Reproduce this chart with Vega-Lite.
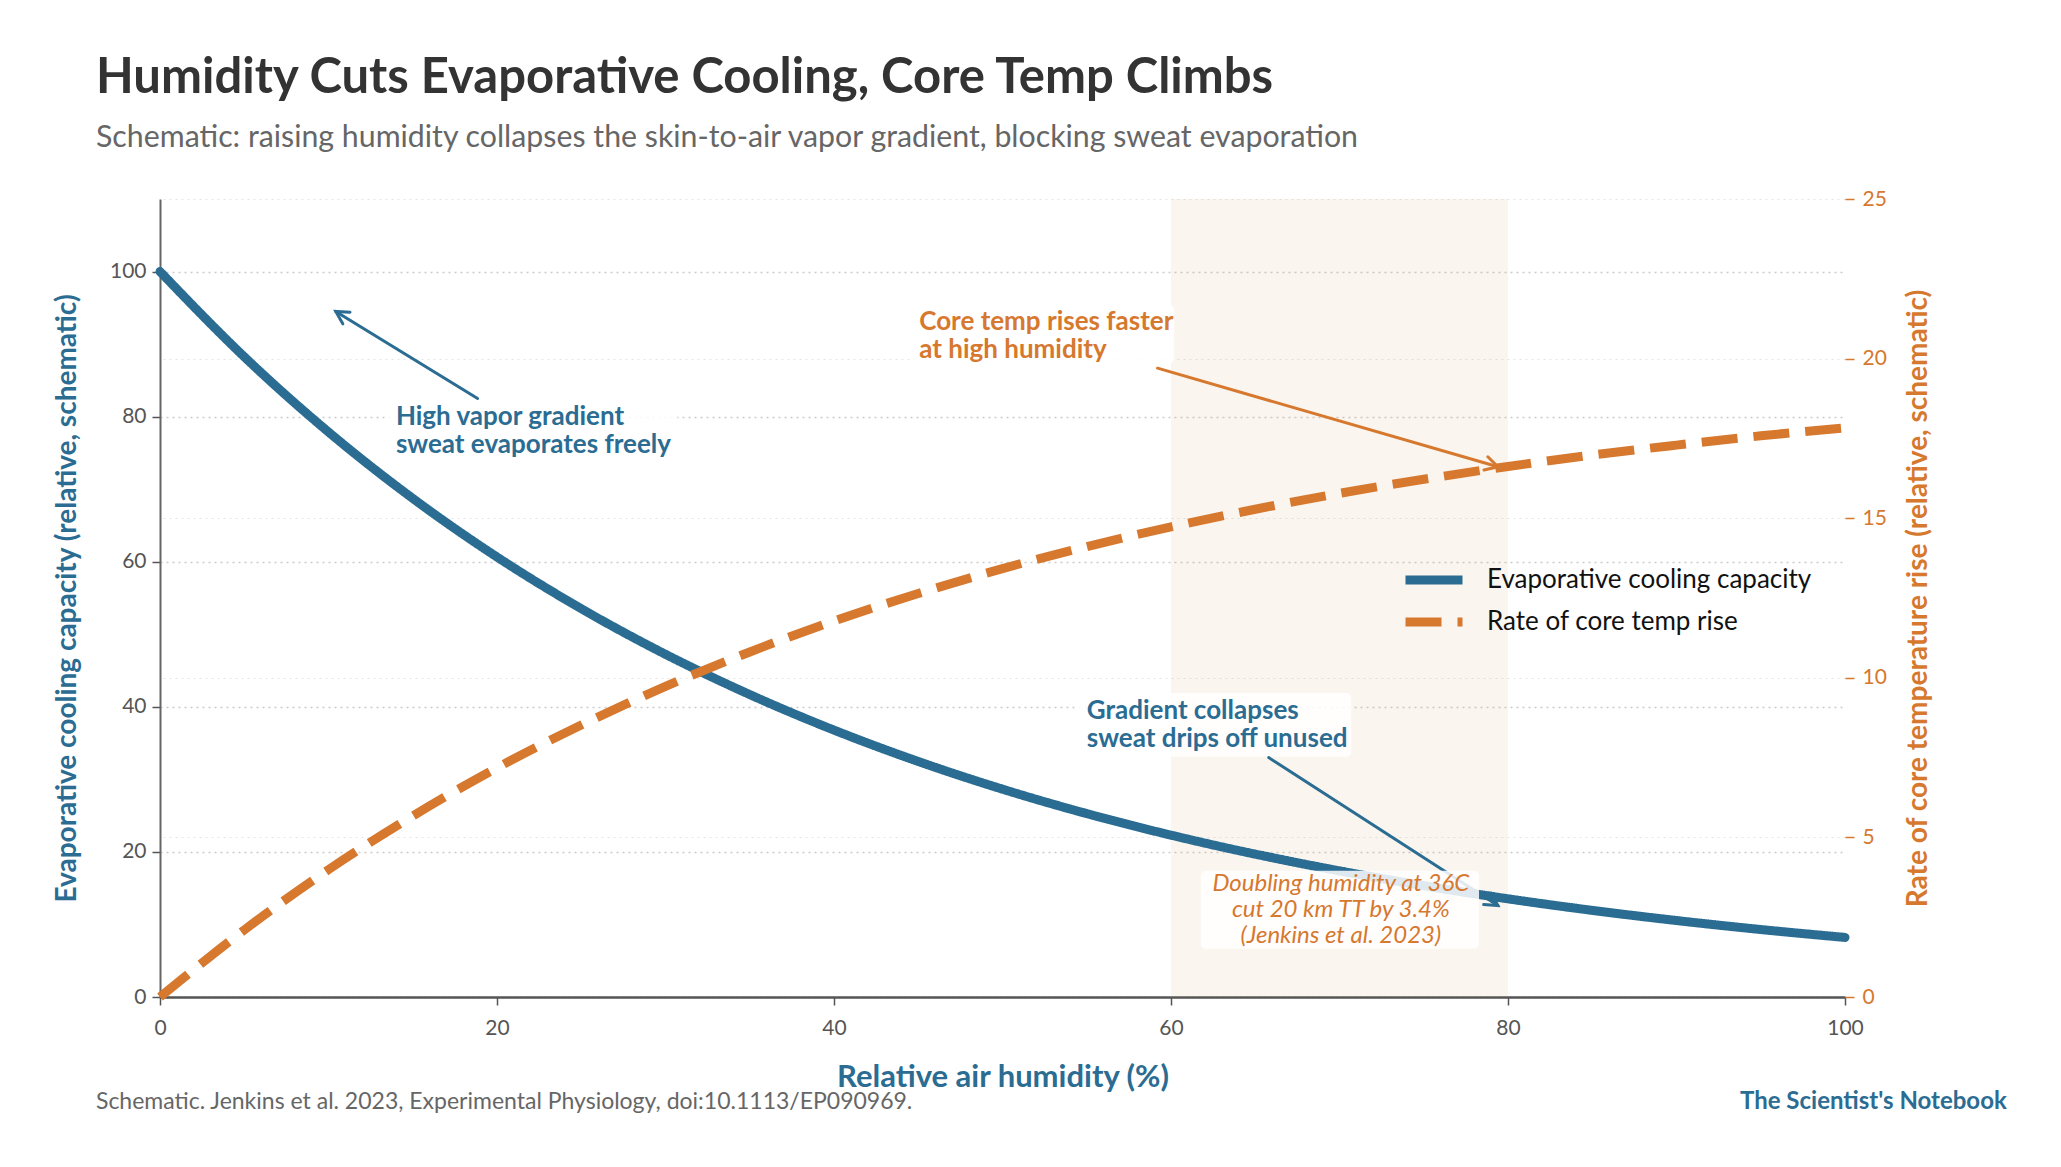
{
  "$schema": "https://vega.github.io/schema/vega-lite/v6.json",
  "width": 1685,
  "height": 798,
  "autosize": {"type": "none"},
  "padding": {"left": 160, "top": 199, "right": 216, "bottom": 170},
  "background": "#ffffff",
  "config": {
    "view": {"stroke": null},
    "font": "Lato",
    "axis": {"labelFont": "Lato", "titleFont": "Lato"},
    "legend": {"labelFont": "Lato"},
    "text": {"font": "Lato"}
  },
  "title": {
    "text": "Humidity Cuts Evaporative Cooling, Core Temp Climbs",
    "subtitle": "Schematic: raising humidity collapses the skin-to-air vapor gradient, blocking sweat evaporation",
    "anchor": "start",
    "frame": "group",
    "dx": -64,
    "offset": 35,
    "font": "Lato",
    "fontSize": 49,
    "fontWeight": "bold",
    "color": "#333333",
    "subtitleFont": "Lato",
    "subtitleFontSize": 30.3,
    "subtitleColor": "#666666",
    "subtitlePadding": 20
  },
  "datasets": {
    "curves": [
      {"x": 0, "value": 100, "series": "Evaporative cooling capacity"},
      {"x": 5, "value": 88.25, "series": "Evaporative cooling capacity"},
      {"x": 10, "value": 77.88, "series": "Evaporative cooling capacity"},
      {"x": 15, "value": 68.73, "series": "Evaporative cooling capacity"},
      {"x": 20, "value": 60.65, "series": "Evaporative cooling capacity"},
      {"x": 25, "value": 53.53, "series": "Evaporative cooling capacity"},
      {"x": 30, "value": 47.24, "series": "Evaporative cooling capacity"},
      {"x": 35, "value": 41.69, "series": "Evaporative cooling capacity"},
      {"x": 40, "value": 36.79, "series": "Evaporative cooling capacity"},
      {"x": 45, "value": 32.47, "series": "Evaporative cooling capacity"},
      {"x": 50, "value": 28.65, "series": "Evaporative cooling capacity"},
      {"x": 55, "value": 25.28, "series": "Evaporative cooling capacity"},
      {"x": 60, "value": 22.31, "series": "Evaporative cooling capacity"},
      {"x": 65, "value": 19.69, "series": "Evaporative cooling capacity"},
      {"x": 70, "value": 17.38, "series": "Evaporative cooling capacity"},
      {"x": 75, "value": 15.34, "series": "Evaporative cooling capacity"},
      {"x": 80, "value": 13.53, "series": "Evaporative cooling capacity"},
      {"x": 85, "value": 11.94, "series": "Evaporative cooling capacity"},
      {"x": 90, "value": 10.54, "series": "Evaporative cooling capacity"},
      {"x": 95, "value": 9.3, "series": "Evaporative cooling capacity"},
      {"x": 100, "value": 8.21, "series": "Evaporative cooling capacity"},
      {"x": 0, "value": 0, "series": "Rate of core temp rise"},
      {"x": 5, "value": 2.1, "series": "Rate of core temp rise"},
      {"x": 10, "value": 3.99, "series": "Rate of core temp rise"},
      {"x": 15, "value": 5.67, "series": "Rate of core temp rise"},
      {"x": 20, "value": 7.18, "series": "Rate of core temp rise"},
      {"x": 25, "value": 8.52, "series": "Rate of core temp rise"},
      {"x": 30, "value": 9.73, "series": "Rate of core temp rise"},
      {"x": 35, "value": 10.81, "series": "Rate of core temp rise"},
      {"x": 40, "value": 11.78, "series": "Rate of core temp rise"},
      {"x": 45, "value": 12.64, "series": "Rate of core temp rise"},
      {"x": 50, "value": 13.42, "series": "Rate of core temp rise"},
      {"x": 55, "value": 14.11, "series": "Rate of core temp rise"},
      {"x": 60, "value": 14.73, "series": "Rate of core temp rise"},
      {"x": 65, "value": 15.28, "series": "Rate of core temp rise"},
      {"x": 70, "value": 15.78, "series": "Rate of core temp rise"},
      {"x": 75, "value": 16.22, "series": "Rate of core temp rise"},
      {"x": 80, "value": 16.62, "series": "Rate of core temp rise"},
      {"x": 85, "value": 16.98, "series": "Rate of core temp rise"},
      {"x": 90, "value": 17.29, "series": "Rate of core temp rise"},
      {"x": 95, "value": 17.58, "series": "Rate of core temp rise"},
      {"x": 100, "value": 17.83, "series": "Rate of core temp rise"}
    ]
  },
  "layer": [
    {
      "layer": [
        {
          "data": {"values": [{}]},
          "mark": {"type": "rect", "color": "#cd9b5f", "opacity": 0.1},
          "encoding": {
            "x": {
              "datum": 60, "type": "quantitative",
              "scale": {"domain": [0, 100], "nice": false, "zero": false},
              "axis": {
                "title": "Relative air humidity (%)",
                "values": [0, 20, 40, 60, 80, 100],
                "grid": false,
                "labelFontSize": 21, "labelColor": "#555555", "labelPadding": 12, "labelFlush": false,
                "tickColor": "#555555", "tickSize": 8, "tickWidth": 1.5,
                "domainColor": "#555555", "domainWidth": 2.5,
                "titleFontSize": 31, "titleFontWeight": "bold", "titleColor": "#2b6c92", "titlePadding": 24
              }
            },
            "x2": {"datum": 80}
          }
        },
        {
          "data": {"values": [{}]},
          "mark": {"type": "rect", "fill": "#ffffff", "opacity": 0.85, "cornerRadius": 5},
          "encoding": {
            "x": {"datum": 13.5, "type": "quantitative", "scale": {"domain": [0, 100], "nice": false, "zero": false}},
            "x2": {"datum": 30.7},
            "y": {"datum": 82.3, "type": "quantitative", "scale": {"domain": [0, 110], "nice": false, "zero": false}},
            "y2": {"datum": 72.7}
          }
        },
        {
          "data": {"values": [{}]},
          "mark": {"type": "rect", "fill": "#ffffff", "opacity": 0.85, "cornerRadius": 5},
          "encoding": {
            "x": {"datum": 54.4, "type": "quantitative", "scale": {"domain": [0, 100], "nice": false, "zero": false}},
            "x2": {"datum": 70.7},
            "y": {"datum": 41.9, "type": "quantitative", "scale": {"domain": [0, 110], "nice": false, "zero": false}},
            "y2": {"datum": 33.1}
          }
        },
        {
          "data": {"name": "curves"},
          "transform": [{"filter": "datum.series === 'Evaporative cooling capacity'"}],
          "mark": {"type": "line", "strokeWidth": 9, "strokeCap": "round", "interpolate": "monotone"},
          "encoding": {
            "x": {"field": "x", "type": "quantitative", "scale": {"domain": [0, 100], "nice": false, "zero": false}},
            "y": {
              "field": "value", "type": "quantitative",
              "scale": {"domain": [0, 110], "nice": false, "zero": false},
              "axis": {
                "title": "Evaporative cooling capacity (relative, schematic)",
                "values": [0, 20, 40, 60, 80, 100],
                "labelFontSize": 21, "labelColor": "#555555", "labelPadding": 6,
                "tickColor": "#555555", "tickSize": 8, "tickWidth": 1.5,
                "domainColor": "#666666", "domainWidth": 2,
                "grid": true, "gridColor": "#cccccc", "gridDash": [2, 4], "gridWidth": 1.5,
                "titleFontSize": 28, "titleFontWeight": "bold", "titleColor": "#2b6c92", "titlePadding": 28
              }
            },
            "color": {
              "field": "series", "type": "nominal",
              "scale": {"domain": ["Evaporative cooling capacity", "Rate of core temp rise"], "range": ["#2b6c92", "#d6782e"]},
              "legend": {
                "title": null, "orient": "none", "legendX": 1241, "legendY": 360,
                "symbolType": "stroke", "symbolSize": 3249, "symbolStrokeWidth": 9, "clipHeight": 42,
                "labelFontSize": 26, "labelColor": "#111111", "labelOffset": 20, "labelLimit": 500, "rowPadding": 0, "padding": 0
              }
            },
            "strokeDash": {
              "field": "series", "type": "nominal",
              "scale": {"domain": ["Evaporative cooling capacity", "Rate of core temp rise"], "range": [[1, 0], [36, 16]]},
              "legend": {
                "title": null, "orient": "none", "legendX": 1241, "legendY": 360,
                "symbolType": "stroke", "symbolSize": 3249, "symbolStrokeWidth": 9, "clipHeight": 42,
                "labelFontSize": 26, "labelColor": "#111111", "labelOffset": 20, "labelLimit": 500, "rowPadding": 0, "padding": 0
              }
            }
          }
        },
        {
          "data": {"values": [{}]},
          "mark": {"type": "text", "text": ["High vapor gradient", "sweat evaporates freely"], "align": "left", "baseline": "middle", "fontSize": 26, "fontWeight": "bold", "color": "#2b6c92", "lineHeight": 28.3},
          "encoding": {
            "x": {"datum": 14.0, "type": "quantitative", "scale": {"domain": [0, 100], "nice": false, "zero": false}},
            "y": {"datum": 79.99, "type": "quantitative", "scale": {"domain": [0, 110], "nice": false, "zero": false}}
          }
        },
        {
          "data": {"values": [{}]},
          "mark": {"type": "rule", "color": "#2b6c92", "strokeWidth": 3, "strokeCap": "round"},
          "encoding": {
            "x": {"datum": 18.85, "type": "quantitative", "scale": {"domain": [0, 100], "nice": false, "zero": false}},
            "y": {"datum": 82.5, "type": "quantitative", "scale": {"domain": [0, 110], "nice": false, "zero": false}},
            "x2": {"datum": 10.43},
            "y2": {"datum": 94.5}
          }
        },
        {
          "data": {"values": [{}]},
          "mark": {"type": "point", "shape": "M-1,-0.55L0,0L-1,0.55", "filled": false, "stroke": "#2b6c92", "strokeWidth": 3, "size": 625, "angle": 211.6, "opacity": 1, "strokeCap": "round"},
          "encoding": {
            "x": {"datum": 10.43, "type": "quantitative", "scale": {"domain": [0, 100], "nice": false, "zero": false}},
            "y": {"datum": 94.5, "type": "quantitative", "scale": {"domain": [0, 110], "nice": false, "zero": false}}
          }
        },
        {
          "data": {"values": [{}]},
          "mark": {"type": "text", "text": ["Gradient collapses", "sweat drips off unused"], "align": "left", "baseline": "middle", "fontSize": 26, "fontWeight": "bold", "color": "#2b6c92", "lineHeight": 28.3},
          "encoding": {
            "x": {"datum": 55.0, "type": "quantitative", "scale": {"domain": [0, 100], "nice": false, "zero": false}},
            "y": {"datum": 39.46, "type": "quantitative", "scale": {"domain": [0, 110], "nice": false, "zero": false}}
          }
        },
        {
          "data": {"values": [{}]},
          "mark": {"type": "rule", "color": "#2b6c92", "strokeWidth": 3, "strokeCap": "round"},
          "encoding": {
            "x": {"datum": 65.8, "type": "quantitative", "scale": {"domain": [0, 100], "nice": false, "zero": false}},
            "y": {"datum": 33.0, "type": "quantitative", "scale": {"domain": [0, 110], "nice": false, "zero": false}},
            "x2": {"datum": 79.4},
            "y2": {"datum": 12.6}
          }
        },
        {
          "data": {"values": [{}]},
          "mark": {"type": "point", "shape": "M-1,-0.55L0,0L-1,0.55", "filled": false, "stroke": "#2b6c92", "strokeWidth": 3, "size": 625, "angle": 32.9, "opacity": 1, "strokeCap": "round"},
          "encoding": {
            "x": {"datum": 79.4, "type": "quantitative", "scale": {"domain": [0, 100], "nice": false, "zero": false}},
            "y": {"datum": 12.6, "type": "quantitative", "scale": {"domain": [0, 110], "nice": false, "zero": false}}
          }
        },
        {
          "data": {"values": [{}]},
          "mark": {"type": "rect", "fill": "#ffffff", "opacity": 0.85, "cornerRadius": 5},
          "encoding": {
            "x": {"datum": 61.76, "type": "quantitative", "scale": {"domain": [0, 100], "nice": false, "zero": false}},
            "x2": {"datum": 78.28},
            "y": {"datum": 17.4, "type": "quantitative", "scale": {"domain": [0, 110], "nice": false, "zero": false}},
            "y2": {"datum": 6.66}
          }
        },
        {
          "data": {"values": [{}]},
          "mark": {"type": "text", "text": ["Doubling humidity at 36C", "cut 20 km TT by 3.4%", "(Jenkins et al. 2023)"], "align": "center", "baseline": "middle", "fontSize": 24, "fontStyle": "italic", "color": "#d6782e", "lineHeight": 26},
          "encoding": {
            "x": {"datum": 70.08, "type": "quantitative", "scale": {"domain": [0, 100], "nice": false, "zero": false}},
            "y": {"datum": 15.64, "type": "quantitative", "scale": {"domain": [0, 110], "nice": false, "zero": false}}
          }
        },
        {
          "data": {"values": [{}]},
          "mark": {"type": "text", "text": "Schematic. Jenkins et al. 2023, Experimental Physiology, doi:10.1113/EP090969.", "align": "left", "baseline": "middle", "fontSize": 23, "color": "#666666"},
          "encoding": {
            "x": {"datum": -3.8, "type": "quantitative", "scale": {"domain": [0, 100], "nice": false, "zero": false}},
            "y": {"datum": -14.5, "type": "quantitative", "scale": {"domain": [0, 110], "nice": false, "zero": false}}
          }
        },
        {
          "data": {"values": [{}]},
          "mark": {"type": "text", "text": "The Scientist's Notebook", "align": "right", "baseline": "middle", "fontSize": 24, "fontWeight": "bold", "color": "#2b6c92"},
          "encoding": {
            "x": {"datum": 109.6, "type": "quantitative", "scale": {"domain": [0, 100], "nice": false, "zero": false}},
            "y": {"datum": -14.5, "type": "quantitative", "scale": {"domain": [0, 110], "nice": false, "zero": false}}
          }
        }
      ]
    },
    {
      "layer": [
        {
          "data": {"values": [{}]},
          "mark": {"type": "rect", "fill": "#ffffff", "opacity": 0.85, "cornerRadius": 5},
          "encoding": {
            "x": {"datum": 44.7, "type": "quantitative", "scale": {"domain": [0, 100], "nice": false, "zero": false}},
            "x2": {"datum": 60.2},
            "y": {"datum": 21.68, "type": "quantitative", "scale": {"domain": [0, 25], "nice": false, "zero": false}},
            "y2": {"datum": 19.85}
          }
        },
        {
          "data": {"name": "curves"},
          "transform": [{"filter": "datum.series === 'Rate of core temp rise'"}],
          "mark": {"type": "line", "strokeWidth": 9, "strokeCap": "butt", "interpolate": "monotone"},
          "encoding": {
            "x": {"field": "x", "type": "quantitative", "scale": {"domain": [0, 100], "nice": false, "zero": false}},
            "y": {
              "field": "value", "type": "quantitative",
              "scale": {"domain": [0, 25], "nice": false, "zero": false},
              "axis": {
                "orient": "right",
                "title": "Rate of core temperature rise (relative, schematic)",
                "values": [0, 5, 10, 15, 20, 25],
                "domain": false,
                "labelFontSize": 21, "labelColor": "#d6782e", "labelPadding": 8,
                "tickColor": "#d6782e", "tickSize": 9, "tickWidth": 1.5,
                "grid": true, "gridColor": "#e6e6e6", "gridDash": [2, 4], "gridWidth": 1.2,
                "titleFontSize": 28, "titleFontWeight": "bold", "titleColor": "#d6782e", "titleAngle": 270, "titlePadding": 46
              }
            },
            "color": {
              "field": "series", "type": "nominal",
              "scale": {"domain": ["Evaporative cooling capacity", "Rate of core temp rise"], "range": ["#2b6c92", "#d6782e"]},
              "legend": {
                "title": null, "orient": "none", "legendX": 1241, "legendY": 360,
                "symbolType": "stroke", "symbolSize": 3249, "symbolStrokeWidth": 9, "clipHeight": 42,
                "labelFontSize": 26, "labelColor": "#111111", "labelOffset": 20, "labelLimit": 500, "rowPadding": 0, "padding": 0
              }
            },
            "strokeDash": {
              "field": "series", "type": "nominal",
              "scale": {"domain": ["Evaporative cooling capacity", "Rate of core temp rise"], "range": [[1, 0], [36, 16]]},
              "legend": {
                "title": null, "orient": "none", "legendX": 1241, "legendY": 360,
                "symbolType": "stroke", "symbolSize": 3249, "symbolStrokeWidth": 9, "clipHeight": 42,
                "labelFontSize": 26, "labelColor": "#111111", "labelOffset": 20, "labelLimit": 500, "rowPadding": 0, "padding": 0
              }
            }
          }
        },
        {
          "data": {"values": [{}]},
          "mark": {"type": "text", "text": ["Core temp rises faster", "at high humidity"], "align": "left", "baseline": "middle", "fontSize": 26, "fontWeight": "bold", "color": "#d6782e", "lineHeight": 28.3},
          "encoding": {
            "x": {"datum": 45.06, "type": "quantitative", "scale": {"domain": [0, 100], "nice": false, "zero": false}},
            "y": {"datum": 21.16, "type": "quantitative", "scale": {"domain": [0, 25], "nice": false, "zero": false}}
          }
        },
        {
          "data": {"values": [{}]},
          "mark": {"type": "rule", "color": "#d6782e", "strokeWidth": 3, "strokeCap": "round"},
          "encoding": {
            "x": {"datum": 59.2, "type": "quantitative", "scale": {"domain": [0, 100], "nice": false, "zero": false}},
            "y": {"datum": 19.7, "type": "quantitative", "scale": {"domain": [0, 25], "nice": false, "zero": false}},
            "x2": {"datum": 79.4},
            "y2": {"datum": 16.61}
          }
        },
        {
          "data": {"values": [{}]},
          "mark": {"type": "point", "shape": "M-1,-0.55L0,0L-1,0.55", "filled": false, "stroke": "#d6782e", "strokeWidth": 3, "size": 625, "angle": 16.2, "opacity": 1, "strokeCap": "round"},
          "encoding": {
            "x": {"datum": 79.4, "type": "quantitative", "scale": {"domain": [0, 100], "nice": false, "zero": false}},
            "y": {"datum": 16.61, "type": "quantitative", "scale": {"domain": [0, 25], "nice": false, "zero": false}}
          }
        }
      ]
    }
  ],
  "resolve": {"scale": {"y": "independent"}, "axis": {"y": "independent"}}
}
